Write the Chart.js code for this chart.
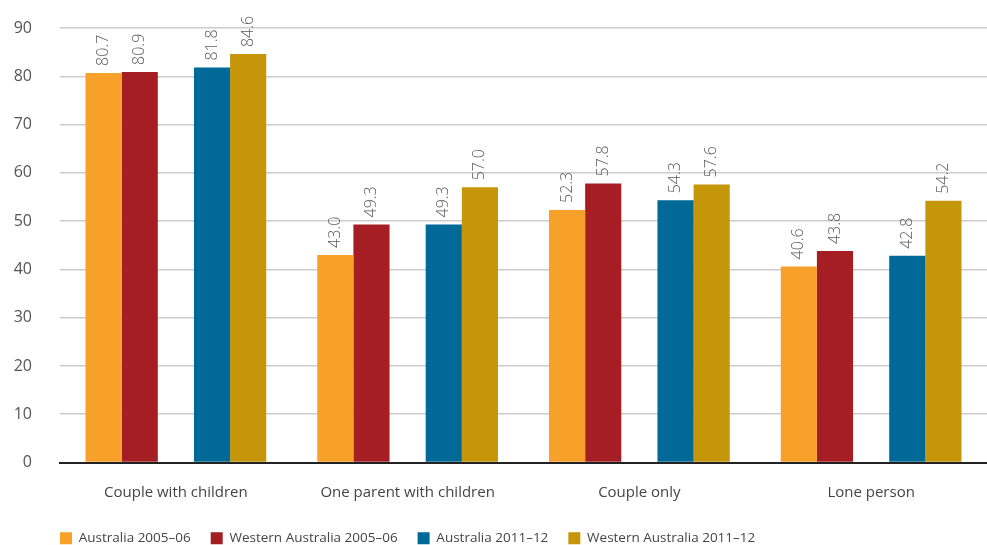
<!DOCTYPE html>
<html>
<head>
<meta charset="utf-8">
<script src="https://cdn.jsdelivr.net/npm/chart.js@4/dist/chart.umd.min.js"></script>
<style>
  html, body { margin: 0; padding: 0; background: #fff; }
  #wrap { width: 987px; height: 545px; }
</style>
</head>
<body>
<div id="wrap"><canvas id="chart"></canvas></div>
<script>
const categories = ['Couple with children', 'One parent with children', 'Couple only', 'Lone person']
const aus0506 = [80.7, 43.0, 52.3, 40.6]
const wa0506 = [80.9, 49.3, 57.8, 43.8]
const aus1112 = [81.8, 49.3, 54.3, 42.8]
const wa1112 = [84.6, 57.0, 57.6, 54.2]
const yTicks = [0, 10, 20, 30, 40, 50, 60, 70, 80, 90]

const colors = {
  orange: '#f7a12b',
  red: '#a51e23',
  blue: '#006997',
  gold: '#c5960a'
}

const font = "'Open Sans', sans-serif"

// rotated value labels above each bar
const barLabels = {
  id: 'barLabels',
  afterDatasetsDraw(chart) {
    const ctx = chart.ctx
    ctx.save()
    ctx.font = '300 16px ' + font
    ctx.fillStyle = '#5a5a5a'
    ctx.textAlign = 'left'
    ctx.textBaseline = 'middle'
    chart.data.datasets.forEach((ds, i) => {
      if (!ds.label) return
      chart.getDatasetMeta(i).data.forEach((bar, j) => {
        const v = ds.data[j]
        if (v == null) return
        ctx.save()
        ctx.translate(bar.x, bar.y - 7)
        ctx.rotate(-Math.PI / 2)
        ctx.fillText(v.toFixed(1), 0, 0)
        ctx.restore()
      })
    })
    ctx.restore()
  }
}

// nudge the legend to sit under the plot like the original
const legendShift = {
  id: 'legendShift',
  afterLayout(chart) {
    chart.legend.left += 40
    chart.legend.top -= 11
  }
}

new Chart(document.getElementById('chart'), {
  type: 'bar',
  data: {
    labels: categories,
    datasets: [
      { label: 'Australia 2005–06', data: aus0506, backgroundColor: colors.orange },
      { label: 'Western Australia 2005–06', data: wa0506, backgroundColor: colors.red },
      { label: '', data: [null, null, null, null], backgroundColor: 'rgba(0,0,0,0)' },
      { label: 'Australia 2011–12', data: aus1112, backgroundColor: colors.blue },
      { label: 'Western Australia 2011–12', data: wa1112, backgroundColor: colors.gold }
    ]
  },
  options: {
    responsive: true,
    maintainAspectRatio: false,
    animation: false,
    layout: { padding: { top: 28, right: 0, left: 0, bottom: -21 } },
    datasets: { bar: { barPercentage: 1, categoryPercentage: 0.78, borderWidth: 0 } },
    plugins: {
      tooltip: { enabled: false },
      legend: {
        position: 'bottom',
        align: 'start',
        labels: {
          filter: item => item.text !== '',
          boxWidth: 12,
          boxHeight: 12,
          padding: 20,
          color: '#444',
          font: { family: font, size: 13.5 }
        }
      }
    },
    scales: {
      x: {
        grid: { display: false, drawTicks: false },
        border: { color: '#222', width: 2 },
        ticks: { color: '#444', padding: 21, font: { family: font, size: 15 } }
      },
      y: {
        min: 0,
        max: 90,
        afterBuildTicks: axis => { axis.ticks = yTicks.map(v => ({ value: v })) },
        afterFit: axis => {
          axis.width = 60
          axis.paddingTop = 0
          axis.paddingBottom = 0
        },
        grid: { color: '#cccccc', lineWidth: 1.5, drawTicks: false },
        border: { display: false },
        ticks: { color: '#555', padding: 28, font: { family: font, size: 16 } }
      }
    }
  },
  plugins: [barLabels, legendShift]
})
</script>
</body>
</html>
